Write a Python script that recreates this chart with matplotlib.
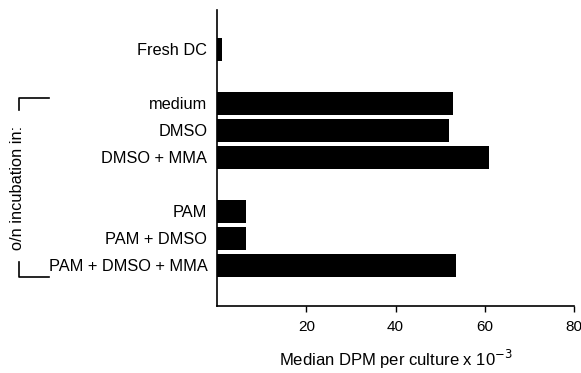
import matplotlib
matplotlib.use("Agg")
import matplotlib.pyplot as plt

# bar labels, top to bottom, and their values (x 10^-3 DPM)
labels = ["Fresh DC", "medium", "DMSO", "DMSO + MMA",
          "PAM", "PAM + DMSO", "PAM + DMSO + MMA"]
values = [1.2, 52.8, 51.9, 60.9, 6.5, 6.5, 53.5]
rows = [-2, 0, 1, 2, 4, 5, 6]
xticks = [20, 40, 60, 80]

plt.rcParams['font.family'] = ['Liberation Sans', 'DejaVu Sans']

fig = plt.figure(figsize=(5.81, 3.73), dpi=100)
ax = fig.add_axes([0.3735, 0.1796, 0.6145, 0.7936])

ax.barh(rows, values, height=0.88, color="black")

ax.set_xlim(0, 80)
ax.set_ylim(7.5, -3.46)
ax.set_xticks(xticks)
ax.set_xticklabels([str(t) for t in xticks], fontsize=11)
ax.tick_params(axis="x", direction="out", length=4, width=1, pad=6)
ax.set_yticks(rows)
ax.set_yticklabels(labels, fontsize=11.8)
ax.tick_params(axis="y", length=0, pad=7)

for s in ["top", "right"]:
    ax.spines[s].set_visible(False)
ax.spines["left"].set_linewidth(1.2)
ax.spines["bottom"].set_linewidth(1.2)

ax.set_xlabel("Median DPM per culture x 10$^{-3}$", fontsize=12, labelpad=10)

# bracket and rotated group label on the left
fig.text(18 / 581, 1 - 188 / 373, "o/n incubation in:", rotation=90,
         ha="center", va="center", fontsize=11.8)
H = 373.0
fig.add_artist(plt.Line2D([19 / 581, 19 / 581, 49 / 581],
                          [1 - 110 / H, 1 - 98 / H, 1 - 98 / H],
                          color="black", lw=1.2))
fig.add_artist(plt.Line2D([19 / 581, 19 / 581, 49 / 581],
                          [1 - 262 / H, 1 - 277 / H, 1 - 277 / H],
                          color="black", lw=1.2))

fig.savefig("out.png", dpi=100)
